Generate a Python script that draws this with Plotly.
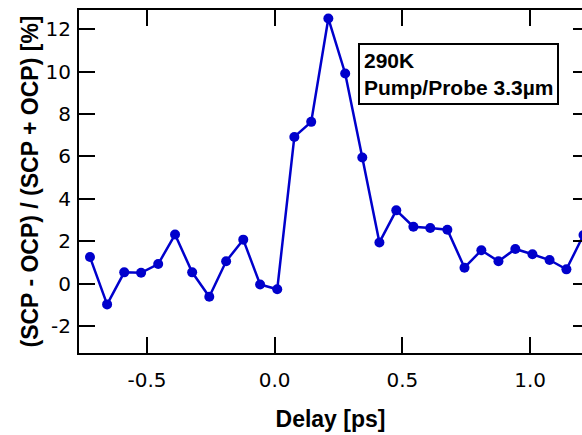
import plotly.graph_objects as go

# Pump-probe delay (ps) and circular-polarization asymmetry (%)
delay_ps = [-0.723, -0.656, -0.589, -0.523, -0.456, -0.390, -0.323, -0.256,
            -0.190, -0.123, -0.057, 0.010, 0.077, 0.143, 0.210, 0.276,
            0.343, 0.410, 0.476, 0.543, 0.609, 0.676, 0.743, 0.809,
            0.876, 0.942, 1.009, 1.076, 1.142, 1.209]
asym_pct = [1.26, -0.97, 0.54, 0.52, 0.93, 2.32, 0.54, -0.61,
            1.06, 2.08, -0.03, -0.26, 6.92, 7.63, 12.50, 9.91,
            5.95, 1.95, 3.46, 2.69, 2.63, 2.55, 0.76, 1.58,
            1.06, 1.64, 1.39, 1.12, 0.68, 2.30]

x_ticks = [-0.5, 0.0, 0.5, 1.0]
x_tick_text = ["-0.5", "0.0", "0.5", "1.0"]
y_ticks = [-2, 0, 2, 4, 6, 8, 10, 12]
y_tick_text = ["-2", "0", "2", "4", "6", "8", "10", "12"]

x_range = [-0.766, 1.203]
y_range = [-3.26, 12.9]

blue = "#0000cc"
tick_font = dict(family="DejaVu Sans", size=20, color="black")
title_font = dict(family="Liberation Sans", size=23, color="black")

fig = go.Figure()
fig.add_trace(go.Scatter(
    x=delay_ps, y=asym_pct, mode="lines+markers",
    line=dict(color=blue, width=2.5),
    marker=dict(color=blue, size=10),
    cliponaxis=True, showlegend=False,
))
# empty trace carrying the right-hand tick axis
fig.add_trace(go.Scatter(x=[], y=[], yaxis="y2", showlegend=False))

fig.update_layout(
    width=582, height=435,
    margin=dict(l=79, r=0, t=10, b=82),
    paper_bgcolor="white", plot_bgcolor="white",
    xaxis=dict(
        range=x_range, tickvals=x_ticks, ticktext=x_tick_text,
        showgrid=False, zeroline=False,
        showline=True, linecolor="black", linewidth=2, mirror="ticks",
        ticks="inside", ticklen=16, tickwidth=2, tickcolor="black",
        tickfont=tick_font, ticklabelstandoff=8,
        title=dict(text="<b>Delay [ps]</b>", font=title_font, standoff=20),
    ),
    yaxis=dict(
        range=y_range, tickvals=y_ticks, ticktext=y_tick_text,
        showgrid=False, zeroline=False,
        showline=True, linecolor="black", linewidth=2, mirror=False,
        ticks="inside", ticklen=16, tickwidth=2, tickcolor="black",
        tickfont=tick_font, ticklabelstandoff=2,
        title=dict(text="<b>(SCP - OCP) / (SCP + OCP) [%]</b>",
                   font=title_font, standoff=0),
    ),
    yaxis2=dict(
        overlaying="y", side="right", range=y_range, tickvals=y_ticks,
        showgrid=False, zeroline=False, showline=False,
        ticks="inside", ticklen=9, tickwidth=2, tickcolor="black",
        showticklabels=False,
    ),
    annotations=[dict(
        xref="paper", yref="paper", x=0.5547, y=0.9037,
        xanchor="left", yanchor="top", align="left", showarrow=False,
        text="<b>290K<br>Pump/Probe 3.3µm</b>",
        font=dict(family="Liberation Sans", size=21, color="black"),
        bordercolor="black", borderwidth=2, borderpad=4,
        bgcolor="white",
    )],
)

fig.write_html("out.html")
